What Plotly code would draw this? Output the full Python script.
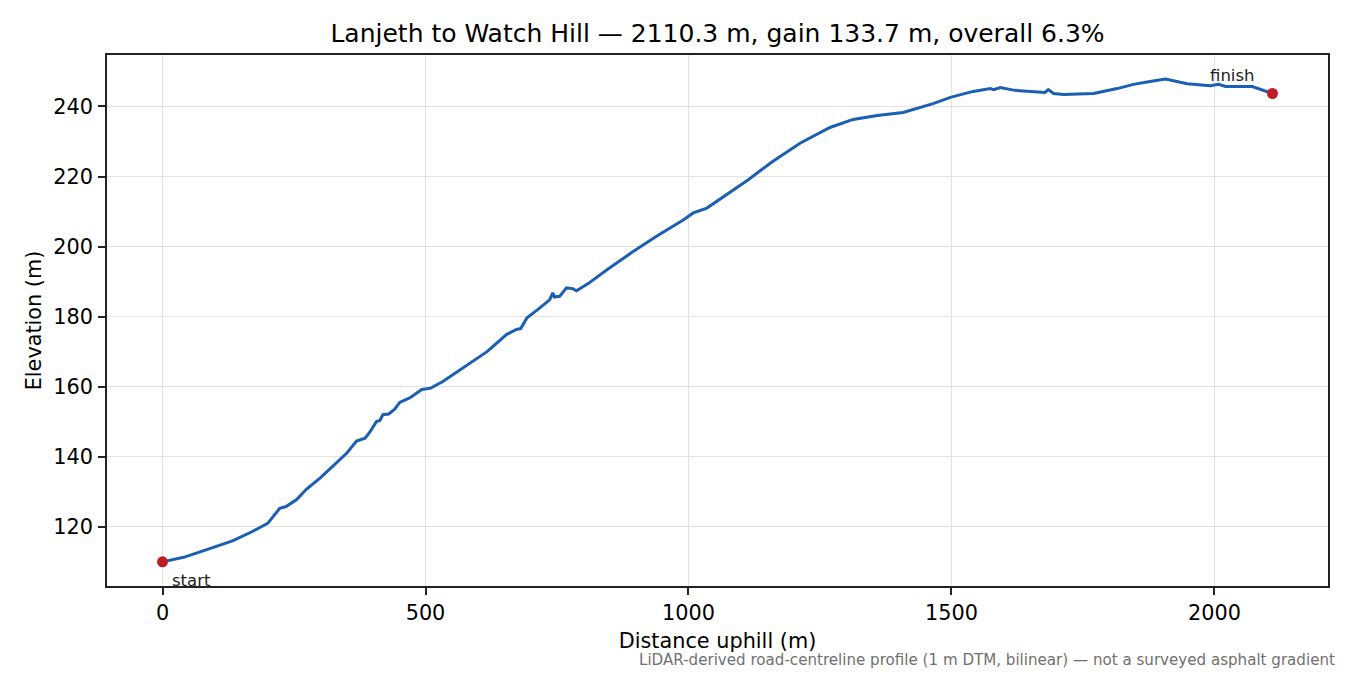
import plotly.graph_objects as go

# distance along the road (m) and elevation (m)
distance = [0, 40, 70, 100, 133, 170, 200, 223, 235, 255, 274, 300, 324, 350, 369,
            385, 394, 407, 413, 419, 430, 441, 451, 470, 493, 510, 533, 575, 617,
            654, 672, 681, 693, 715, 736, 742, 745, 755, 761, 768, 780, 787, 810,
            845, 894, 940, 990, 1009, 1035, 1070, 1113, 1160, 1212, 1269, 1313,
            1359, 1408, 1465, 1498, 1541, 1574, 1580, 1593, 1620, 1656, 1678, 1684,
            1694, 1713, 1770, 1815, 1846, 1880, 1907, 1948, 1992, 2008, 2021, 2072,
            2090, 2110.3]
elevation = [110.0, 111.3, 112.8, 114.3, 116.0, 118.6, 121.0, 125.3, 125.8, 127.8,
             130.8, 134.0, 137.3, 141.0, 144.5, 145.3, 147.0, 150.1, 150.3, 152.0,
             152.2, 153.5, 155.5, 156.8, 159.2, 159.6, 161.5, 165.8, 170.0, 174.9,
             176.3, 176.6, 179.7, 182.2, 184.8, 186.8, 185.6, 185.8, 186.8, 188.2,
             188.0, 187.4, 189.5, 193.4, 198.5, 203.0, 207.6, 209.6, 211.0, 214.5,
             219.0, 224.3, 229.5, 234.0, 236.3, 237.4, 238.3, 240.8, 242.6, 244.3,
             245.1, 244.8, 245.4, 244.6, 244.3, 244.0, 244.8, 243.7, 243.4, 243.7,
             245.1, 246.3, 247.2, 247.8, 246.5, 245.9, 246.3, 245.7, 245.7, 244.8,
             243.7]

x_ticks = [0, 500, 1000, 1500, 2000]
y_ticks = [120, 140, 160, 180, 200, 220, 240]

total = distance[-1]
gain = elevation[-1] - elevation[0]
title = f"Lanjeth to Watch Hill \u2014 {total:.1f} m, gain {gain:.1f} m, overall {gain / total * 100:.1f}%"
footer = "LiDAR-derived road-centreline profile (1 m DTM, bilinear) \u2014 not a surveyed asphalt gradient"

LINE = "#1a5fb4"
DOT = "#c01c28"
FONT = "DejaVu Sans"

# matplotlib-style 5% padding
xpad = (max(distance) - min(distance)) * 0.05
ypad = (max(elevation) - min(elevation)) * 0.05

fig = go.Figure()
fig.add_trace(go.Scatter(x=distance, y=elevation, mode="lines",
                         line=dict(color=LINE, width=3), showlegend=False))
fig.add_trace(go.Scatter(x=[distance[0], distance[-1]], y=[elevation[0], elevation[-1]],
                         mode="markers", marker=dict(color=DOT, size=11),
                         showlegend=False))

fig.add_annotation(x=distance[0], y=elevation[0], text="start", showarrow=False,
                   xanchor="left", yanchor="middle", xshift=7, yshift=-19,
                   font=dict(size=16.5, color="#222"))
fig.add_annotation(x=distance[-1], y=elevation[-1], text="finish", showarrow=False,
                   xanchor="center", yanchor="middle", xshift=-40, yshift=18,
                   font=dict(size=16.5, color="#222"))
fig.add_annotation(xref="paper", yref="paper", x=1.0075, y=-0.139, text=footer,
                   showarrow=False, xanchor="right", yanchor="middle",
                   font=dict(size=15.1, color="#707070"))

axis_style = dict(showline=True, linecolor="#222", linewidth=1.6, mirror=True,
                  ticks="outside", ticklen=7, tickwidth=1.6, tickcolor="#222",
                  showgrid=True, gridcolor="#e2e2e2", gridwidth=1.3, zeroline=False,
                  tickfont=dict(size=20.8, color="black"))

# page body has an 8px margin, so the figure is shrunk by that much
fig.update_layout(
    width=1342, height=667,
    paper_bgcolor="white", plot_bgcolor="white",
    font=dict(family=FONT, color="black"),
    margin=dict(l=99, r=22, t=47, b=89),
    title=dict(text=title, x=(99 + 1320) / 2 / 1342, xanchor="center",
               y=1 - 25 / 667, yanchor="middle", yref="container",
               font=dict(size=25, color="black")),
    xaxis=dict(range=[min(distance) - xpad, max(distance) + xpad], tickvals=x_ticks,
               ticklabelstandoff=0,
               title=dict(text="Distance uphill (m)", font=dict(size=20.8), standoff=10),
               **axis_style),
    yaxis=dict(range=[min(elevation) - ypad, max(elevation) + ypad], tickvals=y_ticks,
               ticklabelstandoff=1,
               title=dict(text="Elevation (m)", font=dict(size=20.8), standoff=6),
               **axis_style),
)

fig.write_html("out.html")
